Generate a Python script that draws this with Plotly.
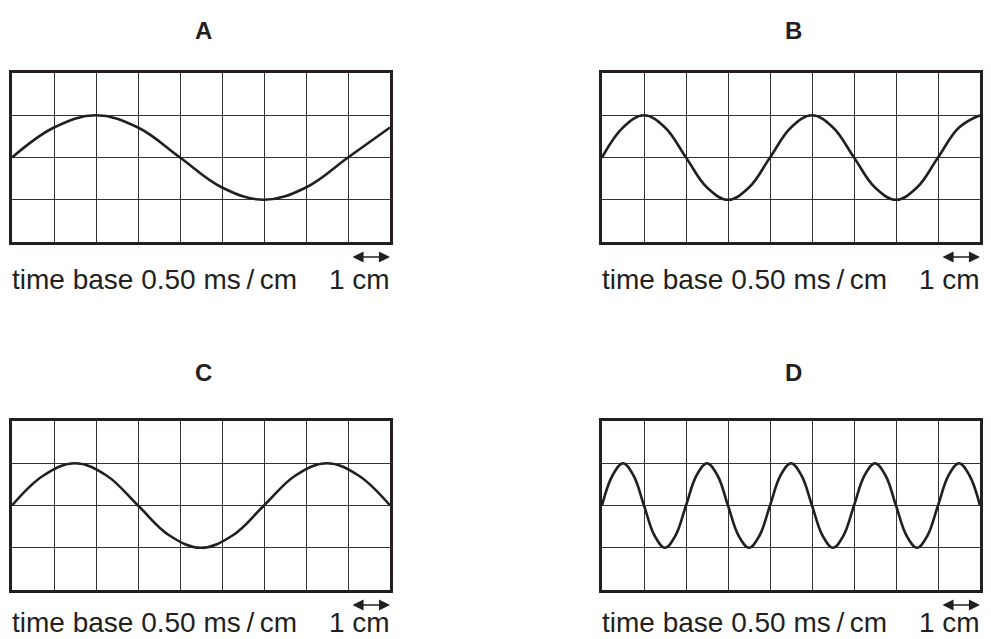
import plotly.graph_objects as go

# four oscilloscope traces, values read at the grid lines (cm), amplitude in cm
labels = ["A", "B", "C", "D"]

a_x = [0, 1, 2, 3, 4, 5, 6, 7, 8, 9]
a_y = [0, 0.71, 1, 0.71, 0, -0.71, -1, -0.71, 0, 0.71]

b_x = [0, 0.5, 1, 1.5, 2, 2.5, 3, 3.5, 4, 4.5, 5, 5.5, 6, 6.5, 7, 7.5, 8, 8.5, 9]
b_y = [0, 0.71, 1, 0.71, 0, -0.71, -1, -0.71, 0, 0.71, 1, 0.71, 0, -0.71, -1, -0.71, 0, 0.71, 1]

c_x = [0, 0.75, 1.5, 2.25, 3, 3.75, 4.5, 5.25, 6, 6.75, 7.5, 8.25, 9]
c_y = [0, 0.71, 1, 0.71, 0, -0.71, -1, -0.71, 0, 0.71, 1, 0.71, 0]

d_x = [0, 0.25, 0.5, 0.75, 1, 1.25, 1.5, 1.75, 2, 2.25, 2.5, 2.75, 3, 3.25, 3.5, 3.75,
       4, 4.25, 4.5, 4.75, 5, 5.25, 5.5, 5.75, 6, 6.25, 6.5, 6.75, 7, 7.25, 7.5, 7.75,
       8, 8.25, 8.5, 8.75, 9]
d_y = [0, 0.71, 1, 0.71, 0, -0.71, -1, -0.71, 0, 0.71, 1, 0.71, 0, -0.71, -1, -0.71,
       0, 0.71, 1, 0.71, 0, -0.71, -1, -0.71, 0, 0.71, 1, 0.71, 0, -0.71, -1, -0.71,
       0, 0.71, 1, 0.71, 0]

time_base = "time base 0.50 ms\u2009/\u2009cm"
scale_label = "1 cm"

# page body has an 8px margin, so the figure is 8px smaller and shifted
OFF = 8
W, H = 991 - OFF, 639 - OFF
ink = "#231f20"


def px(x):
    return (x - OFF) / W


def py(y):
    return 1 - (y - OFF) / H


waves = [(a_x, a_y), (b_x, b_y), (c_x, c_y), (d_x, d_y)]
# pixel boxes of the four screens: left, right, top, bottom
boxes = [(12, 390, 73, 242), (602, 980, 73, 242), (12, 390, 421, 590), (602, 980, 421, 590)]
# vertical pixel positions of: panel letter, caption, scale arrow
label_y = [30, 30, 372, 372]
caption_y = [279, 279, 622, 622]
arrow_y = [257, 257, 605, 605]

fig = go.Figure()
layout = {}
annotations = []

for i, (lab, (wx, wy), (l, r, t, b)) in enumerate(zip(labels, waves, boxes)):
    n = "" if i == 0 else str(i + 1)
    fig.add_trace(go.Scatter(x=wx, y=wy, mode="lines", xaxis="x" + n, yaxis="y" + n,
                             line=dict(color=ink, width=2.6, shape="spline", smoothing=1.1),
                             showlegend=False, hoverinfo="skip"))
    common = dict(showgrid=True, gridcolor="#333333", gridwidth=1.4, dtick=1,
                  showline=True, mirror=True, linecolor=ink, linewidth=2.6,
                  ticks="", showticklabels=False, zeroline=False, fixedrange=True)
    layout["xaxis" + n] = dict(common, range=[0, 9], domain=[px(l), px(r)], anchor="y" + n)
    layout["yaxis" + n] = dict(common, range=[-2, 2], domain=[py(b), py(t)], anchor="x" + n)

    cx = (l + r) / 2
    annotations.append(dict(text="<b>" + lab + "</b>", x=px(cx + 2), y=py(label_y[i]),
                            xref="paper", yref="paper", showarrow=False,
                            xanchor="center", yanchor="middle",
                            font=dict(size=24, color=ink)))
    annotations.append(dict(text=time_base, x=px(l - 2), y=py(caption_y[i]),
                            xref="paper", yref="paper", showarrow=False,
                            xanchor="left", yanchor="middle",
                            font=dict(size=28, color=ink)))
    annotations.append(dict(text=scale_label, x=px(r + 2), y=py(caption_y[i]),
                            xref="paper", yref="paper", showarrow=False,
                            xanchor="right", yanchor="middle",
                            font=dict(size=28, color=ink)))
    annotations.append(dict(text="", x=px(r), y=py(arrow_y[i]),
                            xref="paper", yref="paper", showarrow=True,
                            ax=-39, ay=0, arrowside="end+start", arrowhead=2,
                            startarrowhead=2, arrowsize=1.7, startarrowsize=1.7,
                            arrowwidth=1.3, arrowcolor=ink))

fig.update_layout(**layout)
fig.update_layout(width=W, height=H, margin=dict(l=0, r=0, t=0, b=0),
                  paper_bgcolor="white", plot_bgcolor="white",
                  font=dict(family="Liberation Sans, Arial, sans-serif"),
                  annotations=annotations)

fig.write_html("out.html")
